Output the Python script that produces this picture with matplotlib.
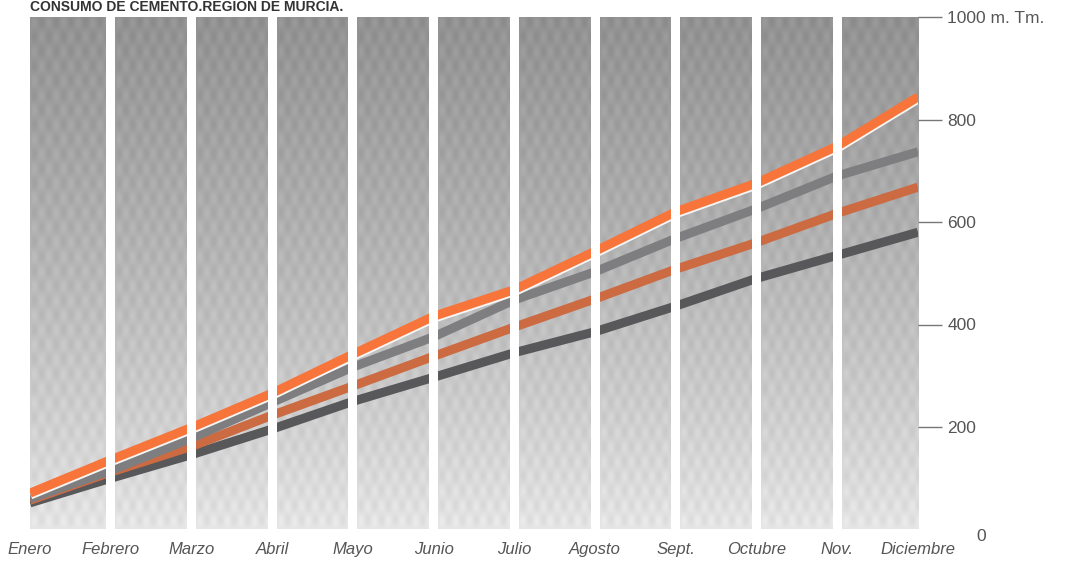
import numpy as np
import matplotlib.pyplot as plt
import matplotlib.patheffects as pe

meses = ['Enero', 'Febrero', 'Marzo', 'Abril', 'Mayo', 'Junio', 'Julio',
         'Agosto', 'Sept.', 'Octubre', 'Nov.', 'Diciembre']

# valores acumulados (miles de Tm)
serie_naranja = [71, 136, 199, 266, 342, 416, 468, 543, 620, 676, 748, 844]
serie_gris = [60, 115, 178, 248, 317, 376, 448, 503, 568, 626, 690, 737]
serie_teja = [57, 112, 162, 223, 280, 338, 395, 450, 508, 560, 617, 668]
serie_oscura = [52, 100, 146, 196, 250, 297, 345, 386, 436, 490, 535, 580]

yticks = [200, 400, 600, 800, 1000]
ylabels = ['200', '400', '600', '800', '1000 m. Tm.']

fig = plt.figure(figsize=(10.65, 5.61), dpi=100)
ax = fig.add_axes([30/1065, 31.5/561, 888/1065, 512.5/561])

x = np.arange(len(meses))

# fondo: columnas con degradado gris y trama de puntos
h, w = 200, 60
yy, xx = np.mgrid[0:h, 0:w]
grad = 0.90 - 0.33 * (yy / (h - 1)) ** 0.85
trama = 0.03 * np.sin(xx * 0.55) * np.sin(yy * 0.55)
img = np.clip(grad + trama, 0, 1)
for i in range(len(meses) - 1):
    x0 = i + (0.0 if i == 0 else 0.055)
    x1 = i + 1 - (0.0 if i == len(meses) - 2 else 0.055)
    ax.imshow(img, cmap='gray', vmin=0, vmax=1, extent=(x0, x1, 0, 1000),
              aspect='auto', origin='lower', zorder=1, interpolation='bilinear')

lw = 6.5
ax.plot(x, serie_oscura, color='#58585a', lw=lw, solid_capstyle='butt', zorder=3)
ax.plot(x, serie_teja, color='#cc6a42', lw=lw, solid_capstyle='butt', zorder=3)
ax.plot(x, serie_gris, color='#7e7e80', lw=lw, solid_capstyle='butt', zorder=3)
ax.plot(x, serie_naranja, color='#f7743a', lw=lw, solid_capstyle='butt', zorder=4,
        path_effects=[pe.SimpleLineShadow(offset=(0.4, -1.3), shadow_color='#f6f6f6',
                                          alpha=1, rho=1),
                      pe.Normal()])

# huecos blancos entre columnas
for i in range(1, len(meses) - 1):
    ax.axvspan(i - 0.055, i + 0.055, color='white', zorder=5, lw=0)

ax.set_xlim(0, 11)
ax.set_ylim(0, 1000)
for s in ax.spines.values():
    s.set_visible(False)

ax.set_xticks(x)
ax.set_xticklabels(meses, fontstyle='italic', fontsize=12, color='#555555',
                   family='Liberation Sans')
ax.tick_params(axis='x', length=0, pad=9)

ax.yaxis.tick_right()
ax.set_yticks(yticks)
ax.set_yticklabels(ylabels, fontsize=12.5, color='#555555', family='Liberation Sans')
ax.tick_params(axis='y', length=17, width=1, color='#777777', pad=4)

ax.annotate('0', xy=(1.0, 0), xycoords=('axes fraction', 'data'),
            xytext=(42, -5), textcoords='offset points', ha='left', va='center',
            fontsize=12.5, color='#555555', family='Liberation Sans')

fig.text(30/1065, 1 - 11/561, 'CONSUMO DE CEMENTO.REGION DE MURCIA.',
         fontsize=10, fontweight='bold', color='#333333', va='baseline',
         family='Liberation Sans')

plt.savefig('out.png', dpi=100)
